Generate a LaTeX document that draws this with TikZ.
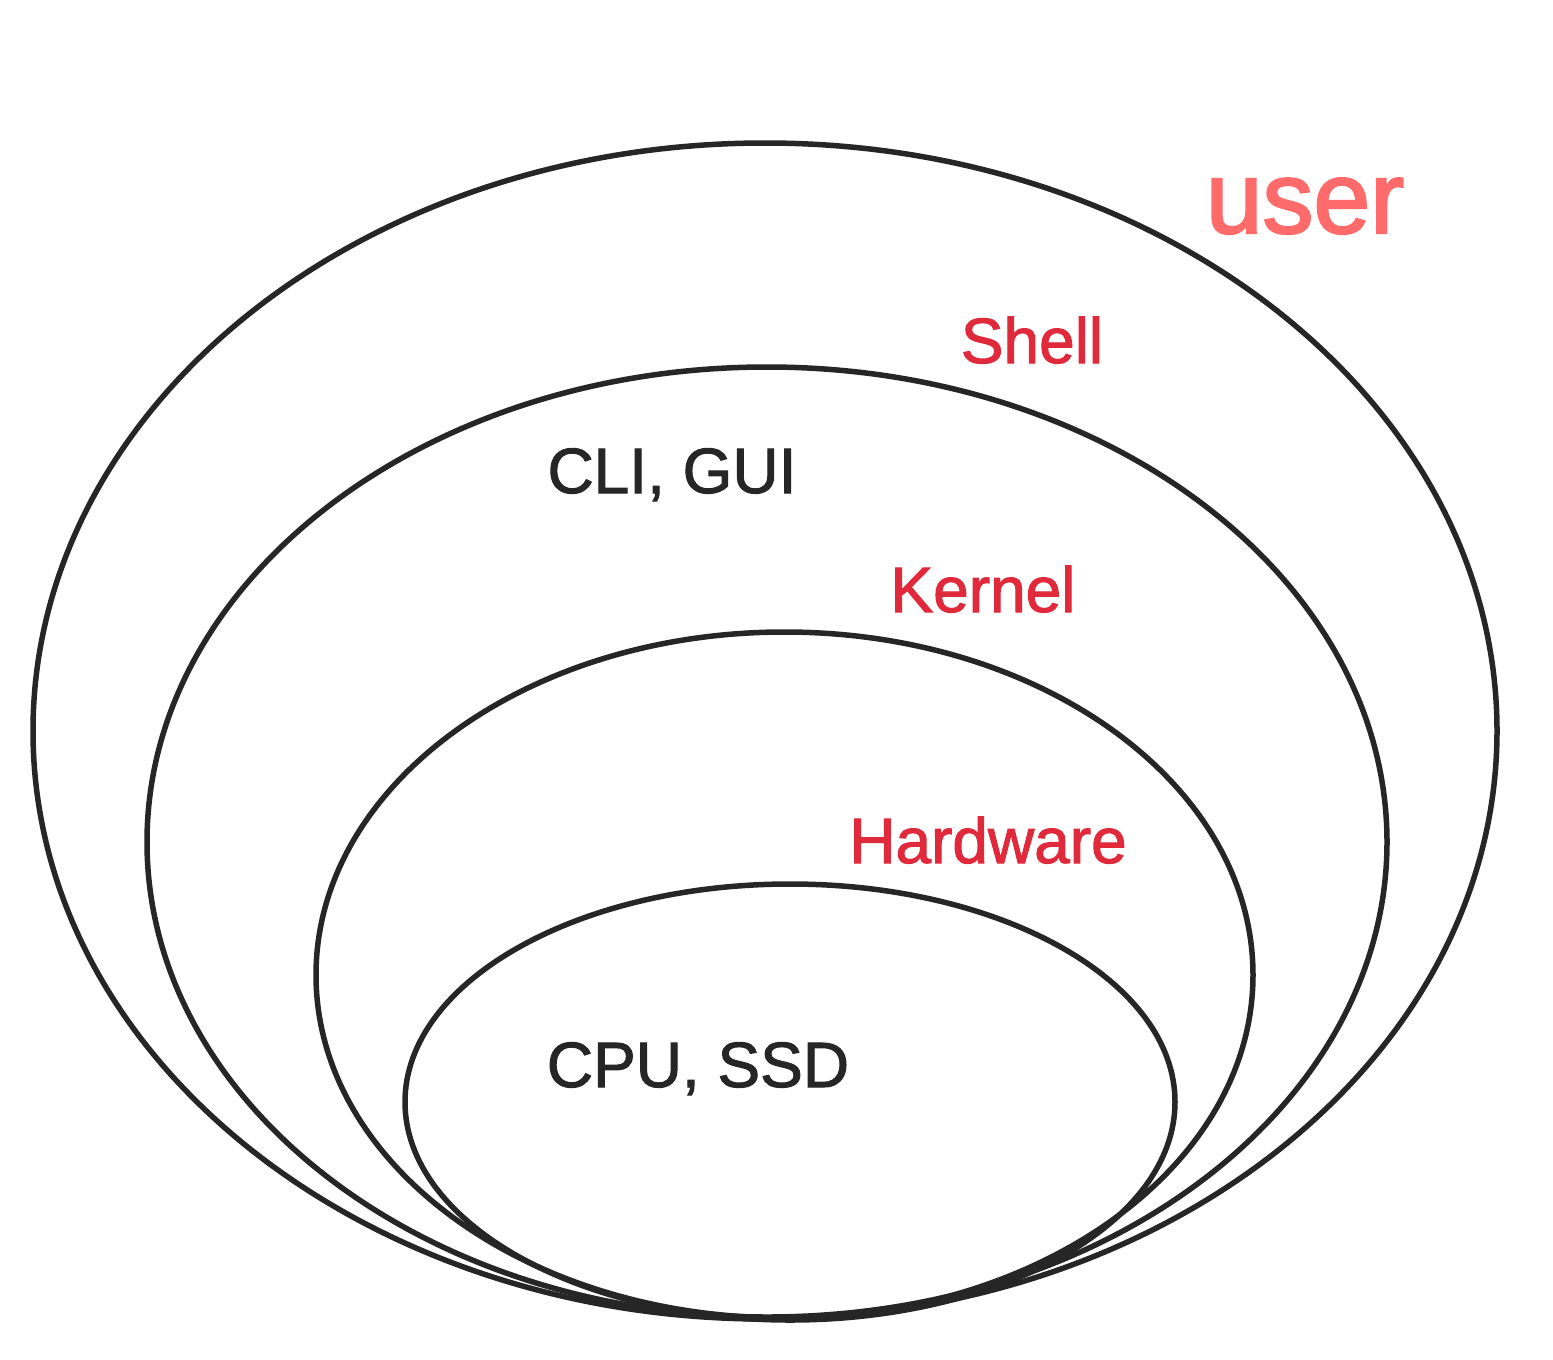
\documentclass[tikz,border=0pt]{standalone}
\usepackage{fontspec}
\setmainfont{Liberation Sans}
\newfontfamily\semiboldfont[FakeBold=1.6]{Liberation Sans}
\newfontfamily\userfont[FakeBold=2.2]{Liberation Sans}
\definecolor{usercol}{HTML}{FF6B6B}
\definecolor{layercol}{HTML}{E02A3C}
\definecolor{inkcol}{HTML}{262626}
\definecolor{linecol}{HTML}{262626}
\begin{document}
\begin{tikzpicture}[x=1pt,y=-1pt,
  ring/.style={draw=linecol,line width=5.5pt},
  layerlabel/.style={anchor=base,inner sep=0pt,text=layercol,font=\semiboldfont\fontsize{64}{70}\selectfont},
  contentlabel/.style={anchor=base,inner sep=0pt,text=inkcol,font=\semiboldfont\fontsize{64}{70}\selectfont},
  userlabel/.style={anchor=base,inner sep=0pt,text=usercol,font=\userfont\fontsize{102}{110}\selectfont}]
\useasboundingbox[fill=white] (0,0) rectangle (1553,1360);
% nested layers
\draw[ring] (765,731) ellipse [x radius=732, y radius=588];
\draw[ring] (767,842) ellipse [x radius=620, y radius=475];
\draw[ring] (784.5,975) ellipse [x radius=468.5, y radius=343];
\draw[ring] (790,1102) ellipse [x radius=385, y radius=218];
% labels
\node[userlabel] (user) at (1305,233) {user};
\node[layerlabel] (shell) at (1032,363) {Shell};
\node[contentlabel] (cligui) at (672,493) {CLI, GUI};
\node[layerlabel] (kernel) at (983,612) {Kernel};
\node[layerlabel] (hardware) at (988,863) {Hardware};
\node[contentlabel] (cpussd) at (698,1087) {CPU, SSD};
\end{tikzpicture}
\end{document}
